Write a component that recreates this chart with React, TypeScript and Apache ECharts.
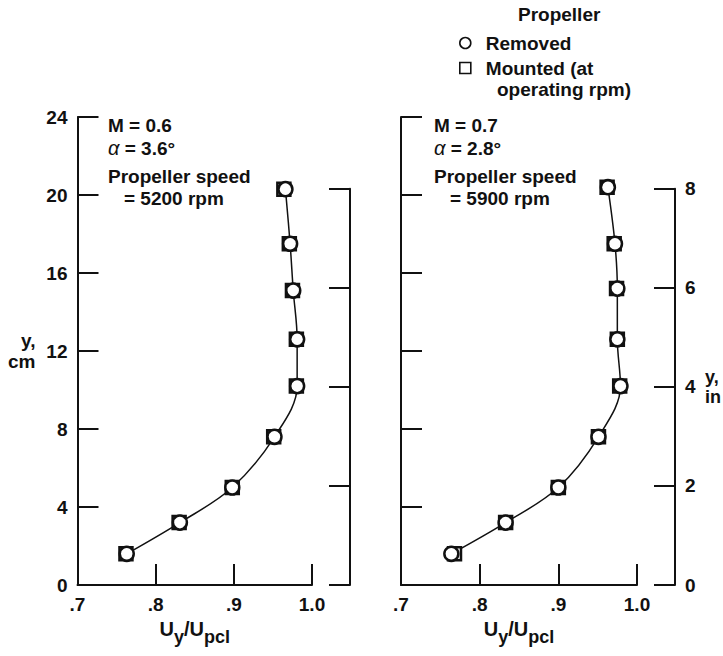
import React, { useEffect, useRef } from "react";
import * as echarts from "echarts";

// ---- data ----
// Left panel: M = 0.6, alpha = 3.6 deg, propeller speed 5200 rpm
const yCmLeft = [1.6, 3.2, 5.0, 7.6, 10.2, 12.6, 15.1, 17.5, 20.3];
const removedLeft = [0.763, 0.831, 0.898, 0.952, 0.981, 0.981, 0.976, 0.972, 0.966];
const mountedLeft = [0.762, 0.830, 0.898, 0.951, 0.980, 0.980, 0.975, 0.971, 0.964];
// Right panel: M = 0.7, alpha = 2.8 deg, propeller speed 5900 rpm
const yCmRight = [1.6, 3.2, 5.0, 7.6, 10.2, 12.6, 15.2, 17.5, 20.4];
const removedRight = [0.764, 0.833, 0.900, 0.951, 0.979, 0.975, 0.975, 0.972, 0.963];
const mountedRight = [0.768, 0.833, 0.900, 0.951, 0.978, 0.975, 0.974, 0.971, 0.962];

const xTickLabels: Record<string, string> = { "7": ".7", "8": ".8", "9": ".9", "10": "1.0" };
const legendNames = ["Removed", "Mounted"];

const FONT = '"Liberation Sans", Arial, Helvetica, sans-serif';
const INK = "#111";

const zip = (xs: number[], ys: number[]) => xs.map((x, i) => [x, ys[i]]);

const xName = "{u|U}{s|y}{u|/U}{s|pcl}";
const xNameStyle = {
  rich: {
    u: { fontSize: 20, fontWeight: "bold", fontFamily: FONT, color: INK, lineHeight: 22, verticalAlign: "top" },
    s: { fontSize: 18, fontWeight: "bold", fontFamily: FONT, color: INK, lineHeight: 22, padding: [9, 0, 0, 0], verticalAlign: "top" },
  },
};

const lineStyleAxis = { color: INK, width: 2 };
const labelStyle = { color: INK, fontSize: 19, fontWeight: "bold", fontFamily: FONT };
const tickStyle = { show: true, inside: true, length: 21, lineStyle: { color: INK, width: 2 } };

function mainX(gridIndex: number) {
  return {
    type: "value",
    gridIndex,
    min: 0.7,
    max: 1.0,
    interval: 0.1,
    axisLine: { show: true, onZero: false, lineStyle: lineStyleAxis },
    axisTick: tickStyle,
    axisLabel: {
      ...labelStyle,
      margin: 10,
      formatter: (v: number) => xTickLabels[String(Math.round(v * 10))] ?? "",
    },
    splitLine: { show: false },
    name: xName,
    nameLocation: "middle",
    nameGap: 31,
    nameTextStyle: xNameStyle,
  };
}

function hiddenX(gridIndex: number) {
  return { type: "value", gridIndex, min: 0, max: 1, show: false };
}

function cmAxis(gridIndex: number, showLabels: boolean) {
  return {
    type: "value",
    gridIndex,
    position: "left",
    min: 0,
    max: 24,
    interval: 4,
    axisLine: { show: true, onZero: false, lineStyle: lineStyleAxis },
    axisTick: tickStyle,
    axisLabel: { ...labelStyle, show: showLabels, margin: 10 },
    splitLine: { show: false },
    name: showLabels ? "y,\ncm" : "",
    nameLocation: "middle",
    nameRotate: 0,
    nameGap: 42,
    nameTextStyle: { ...labelStyle, lineHeight: 21 },
  };
}

function inAxis(gridIndex: number, showLabels: boolean) {
  return {
    type: "value",
    gridIndex,
    position: "right",
    min: 0,
    max: 8,
    interval: 2,
    axisLine: { show: true, onZero: false, lineStyle: lineStyleAxis },
    axisTick: tickStyle,
    axisLabel: { ...labelStyle, show: showLabels, margin: 10 },
    splitLine: { show: false },
    name: showLabels ? "y,\nin" : "",
    nameLocation: "middle",
    nameRotate: 0,
    nameGap: 30,
    nameTextStyle: { ...labelStyle, fontSize: 18, lineHeight: 20, align: "left", padding: [2, 0, 0, 0] },
  };
}

function panelSeries(xAxisIndex: number, yAxisIndex: number, removed: number[], mounted: number[], ys: number[]) {
  return [
    {
      name: "curve" + xAxisIndex,
      type: "line",
      xAxisIndex,
      yAxisIndex,
      data: zip(removed, ys),
      smooth: 0.35,
      showSymbol: false,
      symbol: "none",
      silent: true,
      lineStyle: { color: INK, width: 1.5 },
      z: 2,
    },
    {
      name: "Mounted",
      type: "scatter",
      xAxisIndex,
      yAxisIndex,
      data: zip(mounted, ys),
      symbol: "rect",
      symbolSize: 13,
      itemStyle: { color: "#fff", borderColor: INK, borderWidth: 2.5, opacity: 1 },
      z: 3,
    },
    {
      name: "Removed",
      type: "scatter",
      xAxisIndex,
      yAxisIndex,
      data: zip(removed, ys),
      symbol: "circle",
      symbolSize: 14,
      itemStyle: { color: "#fff", borderColor: INK, borderWidth: 2.5, opacity: 1 },
      z: 4,
    },
  ];
}

const textEl = (x: number, y: number, text: string, rich?: any) => ({
  type: "text",
  x,
  y,
  style: {
    text,
    fill: INK,
    font: `bold 19px ${FONT}`,
    verticalAlign: "middle",
    ...(rich ? { rich } : {}),
  },
});

const alphaRich = {
  a: { fontStyle: "italic", fontWeight: "normal", fontSize: 20, fontFamily: FONT, fill: INK, color: INK },
};

export default function App() {
  const ref = useRef<HTMLDivElement>(null);
  useEffect(() => {
    if (!ref.current) return;
    const chart = echarts.init(ref.current, undefined, { renderer: "svg" });
    const inchTop = 585 - 8 * 2.54 * 19.5;
    chart.setOption({
      animation: false,
      backgroundColor: "#fff",
      textStyle: { fontFamily: FONT, color: INK },
      title: {
        text: "Propeller",
        left: 518,
        top: 5,
        padding: 0,
        textStyle: { fontSize: 19, fontWeight: "bold", fontFamily: FONT, color: INK },
      },
      legend: {
        data: [
          { name: legendNames[0], icon: "circle" },
          { name: legendNames[1], icon: "rect" },
        ],
        orient: "vertical",
        left: 459,
        top: 32,
        padding: 0,
        itemWidth: 11,
        itemHeight: 11,
        itemGap: 3,
        selectedMode: false,
        itemStyle: { color: "#fff", borderColor: INK, borderWidth: 1.6 },
        formatter: (n: string) => (n === "Mounted" ? "Mounted (at" : n),
        textStyle: { fontSize: 19, fontWeight: "bold", fontFamily: FONT, color: INK, lineHeight: 22, padding: [0, 0, 0, 10] },
      },
      grid: [
        { left: 77.5, top: 117, width: 234.5, height: 468 },
        { left: 328, top: inchTop, width: 22, height: 585 - inchTop },
        { left: 401, top: 117, width: 236, height: 468 },
        { left: 654, top: inchTop, width: 21, height: 585 - inchTop },
      ],
      xAxis: [mainX(0), hiddenX(1), mainX(2), hiddenX(3)],
      yAxis: [cmAxis(0, true), inAxis(1, false), cmAxis(2, false), inAxis(3, true)],
      series: [
        ...panelSeries(0, 0, removedLeft, mountedLeft, yCmLeft),
        ...panelSeries(2, 2, removedRight, mountedRight, yCmRight),
      ],
      graphic: [
        textEl(497, 89, "operating rpm)"),
        textEl(108, 125, "M = 0.6"),
        textEl(108, 148, "{a|α} = 3.6°", alphaRich),
        textEl(108, 176, "Propeller speed"),
        textEl(124, 198, "= 5200 rpm"),
        textEl(434, 125, "M = 0.7"),
        textEl(434, 148, "{a|α} = 2.8°", alphaRich),
        textEl(434, 176, "Propeller speed"),
        textEl(450, 198, "= 5900 rpm"),
      ],
    });
    return () => chart.dispose();
  }, []);
  return (
    <div
      ref={ref}
      style={{ position: "fixed", left: 0, top: 0, width: 723, height: 656, background: "#fff" }}
    />
  );
}
